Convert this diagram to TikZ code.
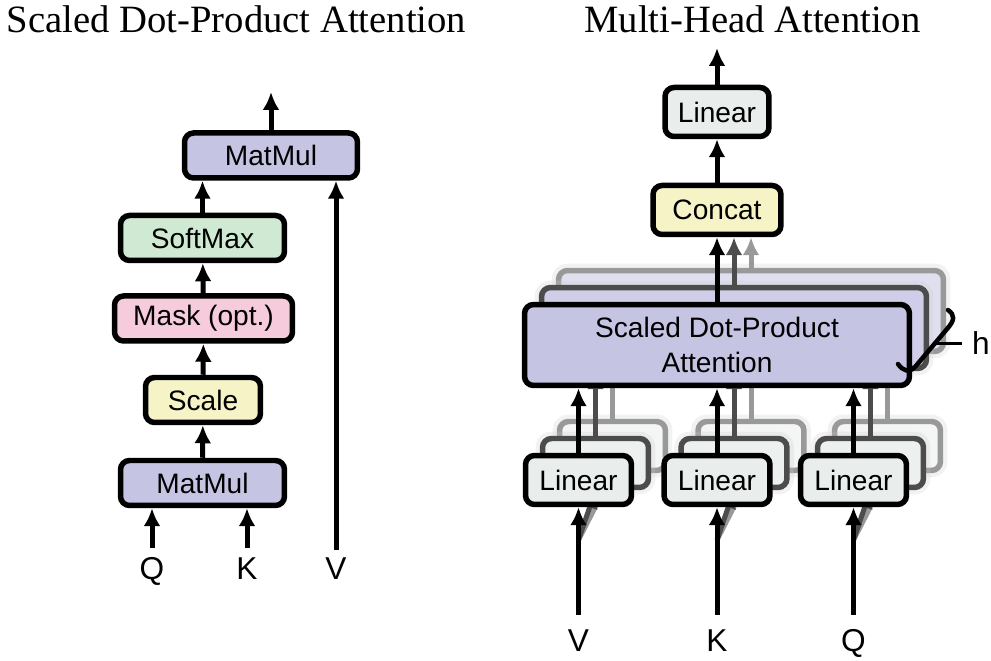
\documentclass[tikz,border=0pt]{standalone}
\usepackage{fontspec}
\setmainfont{Liberation Serif}
\setsansfont{Liberation Sans}
\usetikzlibrary{arrows.meta}

\definecolor{mmcol}{RGB}{198,196,227}
\definecolor{smcol}{RGB}{207,233,210}
\definecolor{mkcol}{RGB}{246,203,220}
\definecolor{sccol}{RGB}{246,244,198}
\definecolor{lincol}{RGB}{233,238,237}

\begin{document}
\begin{tikzpicture}[x=0.02cm, y=-0.02cm]
\tikzset{ >={Latex[length=0.36cm,width=0.34cm]}, inner sep=0pt,
  box/.style={draw, line width=0.11cm, rounded corners=0.18cm, minimum height=0.9cm,
    font=\sffamily\fontsize{16}{19.8}\selectfont},
  cbox/.style={box, draw=black!#1, preaction={draw=black!20, line width=0.28cm, opacity=0.25}},
  flow/.style={->, line width=0.1cm},
  title/.style={anchor=base, font=\fontsize{22}{26}\selectfont},
  lbl/.style={anchor=base, font=\sffamily\fontsize{18}{22}\selectfont},
}

\useasboundingbox (0,0) rectangle (991,661);
%\draw [lightgray, dashed](0,0) grid (991,661);

\node [title] (T1) at (236.5,33) {Scaled Dot-Product Attention};
\node [title] (T2) at (752.5,33) {Multi-Head Attention};

% left: scaled dot-product attention
\node [box, fill=mmcol, minimum width=3.46cm] (MM2) at (271,155.5) {MatMul};
\node [box, fill=smcol, minimum width=3.28cm] (SM)  at (202.5,238) {SoftMax};
\node [box, fill=mkcol, minimum width=3.56cm] (MK)  at (203.5,318.5) {Mask (opt.)};
\node [box, fill=sccol, minimum width=2.30cm] (SC)  at (203,400) {Scale};
\node [box, fill=mmcol, minimum width=3.28cm] (MM1) at (202.5,483) {MatMul};

\node [lbl] (Q1) at (152,580) {Q};
\node [lbl] (K1) at (247,580) {K};
\node [lbl] (V1) at (336,580) {V};

\coordinate (q0) at (152,548);
\coordinate (k0) at (247,548);
\coordinate (v0) at (336,550);
\coordinate (out1) at (271,92);

\draw [flow] (q0) -- (q0 |- MM1.south);
\draw [flow] (k0) -- (k0 |- MM1.south);
\draw [flow] (MM1) -- (SC);
\draw [flow] (SC) -- (MK);
\draw [flow] (MK) -- (SM);
\draw [flow] (SM.north) -- (SM.north |- MM2.south);
\draw [flow] (v0) -- (v0 |- MM2.south);
\draw [flow] (MM2) -- (out1);

% right: multi-head attention
\node [box, fill=lincol, minimum width=2.08cm, minimum height=0.98cm] (LO) at (717,112) {Linear};
\node [box, fill=sccol, minimum width=2.56cm, minimum height=0.98cm] (CC) at (717,210) {Concat};
\coordinate (out2) at (717,48);
\draw [flow] (CC) -- (LO);
\draw [flow] (LO) -- (out2);

\coordinate (inV) at (578.5,615);
\coordinate (inK) at (717,615);
\coordinate (inQ) at (853.5,615);
\coordinate (fanV) at (578.5,540);
\coordinate (fanK) at (717,540);
\coordinate (fanQ) at (853.5,540);

% the h-1 copies behind
\foreach \k/\g/\f in {2/40/55, 1/70/85} {
  \begin{scope}[shift={(17*\k,-17*\k)}]
    \node [cbox=\g, fill=mmcol!\f!white, minimum width=7.7cm, minimum height=1.62cm] (SD\k) at (717,345) {};
    \foreach \x/\n in {578.5/V, 717/K, 853.5/Q}
      \node [cbox=\g, fill=lincol!\f!white, minimum width=2.12cm, minimum height=0.98cm] (L\n\k) at (\x,480) {};
  \end{scope}
  \foreach \n in {V,K,Q} {
    \draw [flow, black!\g] (L\n\k) -- (L\n\k.north |- SD\k.south);
    \draw [flow, black!\g] (fan\n) -- (L\n\k.south);
  }
  \draw [flow, black!\g] (SD\k) -- (SD\k.north |- CC.south);
}

% front head
\node [box, fill=mmcol, minimum width=7.7cm, minimum height=1.62cm, align=center] (SD) at (717,345) {Scaled Dot-Product\\Attention};
\foreach \x/\n in {578.5/V, 717/K, 853.5/Q} {
  \node [box, fill=lincol, minimum width=2.12cm, minimum height=0.98cm] (L\n) at (\x,480) {Linear};
  \node [lbl] (l\n) at (\x,652) {\n};
  \draw [flow] (in\n) -- (L\n);
  \draw [flow] (L\n) -- (L\n.north |- SD.south);
}
\draw [flow] (SD) -- (SD.north |- CC.south);

% brace for h heads
\draw [line width=0.09cm, line cap=round] (898,364) .. controls (903,371) and (909,373) .. (915,367)
  -- (947,329) .. controls (955,320) and (955,315) .. (948,310);
\coordinate (hb) at (934,344);
\coordinate (ht) at (962,344);
\node [lbl] (H) at (981,355) {h};
\draw [line width=0.06cm] (hb) -- (ht);

\end{tikzpicture}
\end{document}
